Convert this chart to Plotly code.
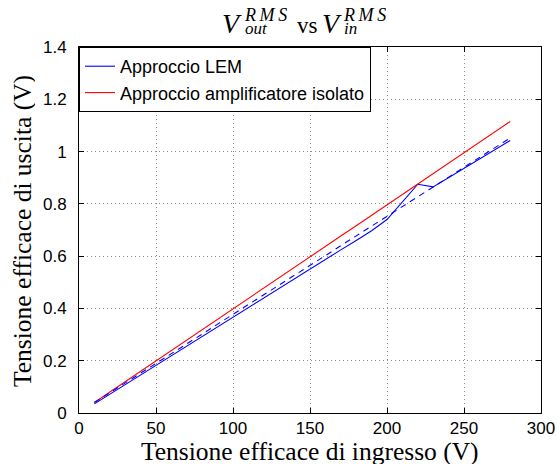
import plotly.graph_objects as go

v_in = [10, 20, 30, 40, 50, 60, 70, 80, 90, 100, 110, 120, 130, 140,
        150, 160, 170, 180, 190, 200, 210, 220, 230, 240, 250, 260, 270, 280]

lem = [0.035, 0.072, 0.108, 0.145, 0.182, 0.219, 0.256, 0.292, 0.329, 0.366,
       0.403, 0.440, 0.476, 0.513, 0.550, 0.587, 0.624, 0.660, 0.697, 0.740,
       0.808, 0.875, 0.865, 0.900, 0.936, 0.971, 1.007, 1.042]

lem_fit = [0.040, 0.077, 0.115, 0.152, 0.190, 0.227, 0.265, 0.302, 0.340, 0.377,
           0.415, 0.452, 0.490, 0.527, 0.565, 0.602, 0.640, 0.677, 0.715, 0.752,
           0.790, 0.827, 0.865, 0.902, 0.940, 0.977, 1.015, 1.052]

iso = [0.040, 0.080, 0.119, 0.159, 0.199, 0.239, 0.279, 0.318, 0.358, 0.398,
       0.438, 0.478, 0.517, 0.557, 0.597, 0.637, 0.677, 0.716, 0.756, 0.796,
       0.836, 0.876, 0.915, 0.955, 0.995, 1.035, 1.075, 1.115]

x_ticks = [0, 50, 100, 150, 200, 250, 300]
y_ticks = [0, 0.2, 0.4, 0.6, 0.8, 1.0, 1.2, 1.4]
y_tick_text = ["0", "0.2", "0.4", "0.6", "0.8", "1", "1.2", "1.4"]

x_title = "Tensione efficace di ingresso (V)"
y_title = "Tensione efficace di uscita (V)"

W, H = 557, 467
ML, MR, MT, MB = 79, 16, 47, 54
PW, PH = W - ML - MR, H - MT - MB

SERIF = "Liberation Serif, Times New Roman, serif"
SANS = "Liberation Sans, Arial, Helvetica, sans-serif"

fig = go.Figure()
fig.add_trace(go.Scatter(x=v_in, y=lem, mode="lines", name="Approccio LEM",
                         line=dict(color="#0000ff", width=1.1)))
fig.add_trace(go.Scatter(x=v_in, y=iso, mode="lines", name="Approccio amplificatore isolato",
                         line=dict(color="#ff0000", width=1.1)))
fig.add_trace(go.Scatter(x=v_in, y=lem_fit, mode="lines", showlegend=False,
                         line=dict(color="#0000ff", width=1.1, dash="6px,5px")))

axis_common = dict(
    showline=True, linecolor="black", linewidth=1, mirror="ticks",
    ticks="inside", ticklen=5, tickcolor="black",
    showgrid=True, gridcolor="#8c8c8c", griddash="1px,3px", gridwidth=1,
    zeroline=False, automargin=False,
    tickfont=dict(family=SANS, size=17, color="black"),
)


def px2paper(px, py):
    return (px - ML) / PW, (H - MB - py) / PH


def text_piece(text, px, py, size, xanchor, box_h, italic=True, angle=0):
    x, y = px2paper(px, py)
    t = f"<i>{text}</i>" if italic else text
    return dict(text=t, x=x, y=y, xref="paper", yref="paper", xanchor=xanchor,
                yanchor="middle", showarrow=False, textangle=angle,
                height=box_h, borderpad=0,
                font=dict(family=SERIF, size=size, color="black"))


TS = "\u2009"
annotations = [
    text_piece("V", 243, 23, 28, "right", 24),
    text_piece(f"R{TS}M{TS}S", 243, 14, 18, "left", 13),
    text_piece("out", 244, 29, 17, "left", 13),
    text_piece("vs", 307, 25, 23, "center", 20, italic=False),
    text_piece("V", 343, 23, 28, "right", 24),
    text_piece(f"R{TS}M{TS}S", 342, 14, 18, "left", 13),
    text_piece("in", 343, 29, 17, "left", 13),
    text_piece(x_title, 310, 451, 25.5, "center", 26, italic=False),
    text_piece(y_title, 22, 231, 25.5, "center", 26, italic=False, angle=-90),
]

fig.update_layout(
    width=W, height=H,
    margin=dict(l=ML, r=MR, t=MT, b=MB, autoexpand=False),
    paper_bgcolor="white", plot_bgcolor="white",
    annotations=annotations,
    xaxis=dict(axis_common, range=[0, 300], tickvals=x_ticks, ticklabelstandoff=0),
    yaxis=dict(axis_common, range=[0, 1.4], tickvals=y_ticks, ticktext=y_tick_text,
               ticklabelstandoff=8),
    legend=dict(x=0, y=1, xanchor="left", yanchor="top",
                bgcolor="white", bordercolor="black", borderwidth=1,
                font=dict(family=SANS, size=18, color="black"),
                itemwidth=30, tracegroupgap=0),
)

fig.write_html("out.html")
